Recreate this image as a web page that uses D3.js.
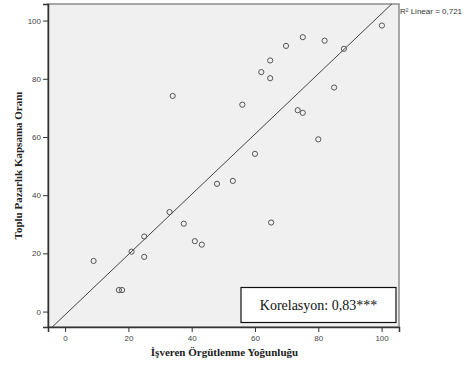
<!DOCTYPE html>
<html>
<head>
<meta charset="utf-8">
<script src="https://cdn.jsdelivr.net/npm/d3@7"></script>
<style>
  body { margin: 0; background: #fff; }
</style>
</head>
<body>
<div id="chart"></div>
<script>
// employer organisation density (x) vs collective bargaining coverage (y)
const orgDensity = [9, 17, 18, 21, 25, 25, 33, 37.5, 41, 43.2, 48, 53, 65.1, 34, 56, 62, 64.8, 64.8, 60, 69.8, 75.1, 82, 88.1, 100.1, 85, 73.5, 75.1, 80];
const coverage = [17.4, 7.4, 7.4, 20.6, 25.8, 18.8, 34.2, 30.2, 24.2, 23, 43.9, 44.9, 30.6, 74.1, 71.1, 82.3, 80.2, 86.3, 54.2, 91.3, 94.3, 93.1, 90.3, 98.3, 77, 69.2, 68.3, 59.2];
const tickValues = [0, 20, 40, 60, 80, 100];
const fitSlope = 1.035;
const fitIntercept = -1.1;
const r2Label = "R² Linear = 0,721";
const corrLabel = "Korelasyon: 0,83***";
const xTitle = "İşveren Örgütlenme Yoğunluğu";
const yTitle = "Toplu Pazarlık Kapsama Oranı";

const width = 470, height = 366;
const plot = { left: 48, top: 4, right: 399, bottom: 327 };

const svg = d3.select("#chart").append("svg")
  .attr("width", width)
  .attr("height", height);

const x = d3.scaleLinear().domain([-5.4, 105.5]).range([plot.left, plot.right]);
const y = d3.scaleLinear().domain([-5.3, 105.7]).range([plot.bottom, plot.top]);

svg.append("defs").append("clipPath").attr("id", "clip")
  .append("rect")
  .attr("x", plot.left).attr("y", plot.top)
  .attr("width", plot.right - plot.left).attr("height", plot.bottom - plot.top);

// plot background + frame
svg.append("rect")
  .attr("x", plot.left).attr("y", plot.top)
  .attr("width", plot.right - plot.left).attr("height", plot.bottom - plot.top)
  .attr("fill", "#f0f0f0")
  .attr("stroke", "#8c8c8c")
  .attr("stroke-width", 1.5);

// axes
const xAxis = svg.append("g")
  .attr("transform", `translate(0,${plot.bottom})`)
  .call(d3.axisBottom(x).tickValues(tickValues).tickSize(5).tickPadding(3));
const yAxis = svg.append("g")
  .attr("transform", `translate(${plot.left},0)`)
  .call(d3.axisLeft(y).tickValues(tickValues).tickSize(5).tickPadding(2));

[xAxis, yAxis].forEach((g) => {
  g.select(".domain").attr("stroke", "#333").attr("stroke-width", 1.5);
  g.selectAll(".tick line").attr("stroke", "#333");
  g.selectAll(".tick text")
    .attr("fill", "#444")
    .style("font", "8px 'Liberation Sans', Arial, sans-serif");
});

// fit line
const x0 = x.domain()[0], x1 = x.domain()[1];
svg.append("line")
  .attr("clip-path", "url(#clip)")
  .attr("x1", x(x0)).attr("y1", y(fitSlope * x0 + fitIntercept))
  .attr("x2", x(x1)).attr("y2", y(fitSlope * x1 + fitIntercept))
  .attr("stroke", "#444")
  .attr("stroke-width", 1);

// points
svg.append("g")
  .selectAll("circle")
  .data(orgDensity.map((d, i) => [d, coverage[i]]))
  .join("circle")
  .attr("cx", (d) => x(d[0]))
  .attr("cy", (d) => y(d[1]))
  .attr("r", 2.6)
  .attr("fill", "none")
  .attr("stroke", "#555")
  .attr("stroke-width", 1);

// R2 label
svg.append("text")
  .attr("x", plot.right + 1).attr("y", 14)
  .style("font", "8px 'Liberation Sans', Arial, sans-serif")
  .attr("fill", "#333")
  .text(r2Label);

// correlation box
const box = { x: 241, y: 287.5, w: 155, h: 35 };
svg.append("rect")
  .attr("x", box.x).attr("y", box.y)
  .attr("width", box.w).attr("height", box.h)
  .attr("fill", "#fff")
  .attr("stroke", "#111")
  .attr("stroke-width", 1.2);
svg.append("text")
  .attr("x", box.x + box.w / 2).attr("y", box.y + box.h / 2 + 5)
  .attr("text-anchor", "middle")
  .style("font", "14px 'Liberation Serif', 'Times New Roman', serif")
  .attr("fill", "#111")
  .text(corrLabel);

// axis titles
svg.append("text")
  .attr("x", (plot.left + plot.right) / 2 + 1).attr("y", 356)
  .attr("text-anchor", "middle")
  .style("font", "bold 11px 'Liberation Serif', 'Times New Roman', serif")
  .attr("fill", "#222")
  .text(xTitle);
svg.append("text")
  .attr("transform", `translate(22,${(plot.top + plot.bottom) / 2}) rotate(-90)`)
  .attr("text-anchor", "middle")
  .style("font", "bold 11px 'Liberation Serif', 'Times New Roman', serif")
  .attr("fill", "#222")
  .text(yTitle);
</script>
</body>
</html>
